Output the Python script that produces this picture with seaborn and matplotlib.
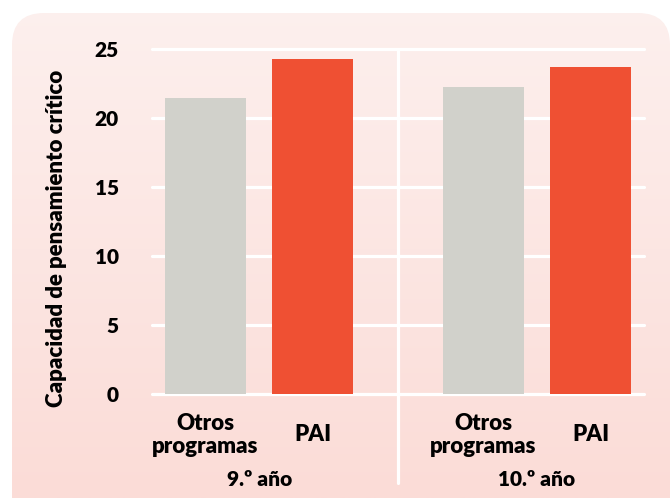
import numpy as np
import pandas as pd
import matplotlib
matplotlib.use("Agg")
import matplotlib.pyplot as plt
import seaborn as sns
from matplotlib.patches import FancyBboxPatch
from matplotlib.transforms import blended_transform_factory

# ---- data ----
years = ["9.º año", "10.º año"]
programs = ["Otros\nprogramas", "PAI"]
values_otros = [21.5, 22.3]
values_pai = [24.3, 23.7]
yticks = [0, 5, 10, 15, 20, 25]
ylabel = "Capacidad de pensamiento crítico"

df = pd.DataFrame({
    "year": years * 2,
    "program": [programs[0]] * len(years) + [programs[1]] * len(years),
    "value": values_otros + values_pai,
})

sns.set_theme(style="white")
plt.rcParams['font.family'] = ['Lato', 'DejaVu Sans']
WEIGHT = "heavy"

W, H = 670, 498
fig = plt.figure(figsize=(6.7, 4.98), dpi=100)
fig.patch.set_facecolor("white")

# background gradient rounded box
bg = fig.add_axes([0, 0, 1, 1])
bg.set_axis_off()
bg.set_xlim(0, W)
bg.set_ylim(H, 0)
grad = np.linspace(0, 1, 256)[:, None, None]
top = np.array([253, 240, 238]) / 255
bot = np.array([251, 220, 215]) / 255
img = top + (bot - top) * grad
im = bg.imshow(img, extent=[0, W, H, 0], aspect='auto', zorder=0)
box = FancyBboxPatch((12, 13), 658, 540, boxstyle="round,pad=0,rounding_size=32",
                     transform=bg.transData, facecolor='none', edgecolor='none')
bg.add_patch(box)
im.set_clip_path(box)

# main axes
ax = fig.add_axes([152 / W, (H - 393.5) / H, (644 - 152) / W, (393.5 - 49.5) / H])
ax.patch.set_alpha(0)
sns.barplot(data=df, x="year", y="value", hue="program", order=years,
            hue_order=programs, palette=["#d1d1cb", "#ef5033"],
            width=0.774, gap=0.2465, ax=ax, legend=False, zorder=3,
            saturation=1, linewidth=0, edgecolor="none")
ax.set_ylim(0, 25)
ax.set_xlim(-0.386, 1.385)
for y in yticks:
    ax.axhline(y, color="white", lw=2.3, zorder=1, clip_on=False)
ax.axvline(0.5, ymin=-0.26, ymax=1, color="white", lw=2.3, zorder=1, clip_on=False)
for s in ax.spines.values():
    s.set_visible(False)
ax.set_yticks(yticks)
ax.set_yticklabels([str(t) for t in yticks], fontweight=WEIGHT, fontsize=15, color="black")
ax.tick_params(axis="both", length=0)
ax.tick_params(axis="y", pad=24)
ax.set_xticks(range(len(years)))
ax.set_xticklabels(years, fontweight=WEIGHT, fontsize=15, color="black")
ax.tick_params(axis="x", pad=55)
ax.set_xlabel("")
ax.set_ylabel(ylabel, fontweight=WEIGHT, fontsize=16, color="black")
ax.yaxis.set_label_coords(-0.172, 0.452)

trans = blended_transform_factory(ax.transData, ax.transAxes)
for cont, prog in zip(ax.containers, programs):
    for bar in cont:
        cx = bar.get_x() + bar.get_width() / 2
        ax.text(cx, -0.12, prog, transform=trans, ha="center", va="center",
                fontsize=16, fontweight=WEIGHT, color="black", linespacing=1.1)

fig.savefig("out.png", dpi=100)
